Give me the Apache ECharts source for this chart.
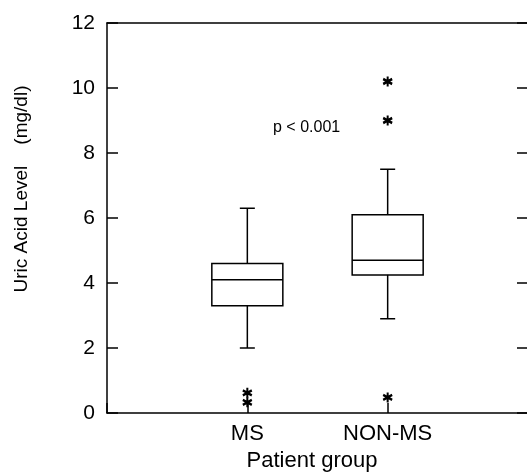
<!DOCTYPE html>
<html>
<head>
<meta charset="utf-8">
<script src="https://cdn.jsdelivr.net/npm/echarts@6/dist/echarts.min.js"></script>
<style>
html,body{margin:0;padding:0;background:#fff;}
#chart{width:527px;height:472px;}
</style>
</head>
<body>
<div id="chart"></div>
<script>
// ---- data ----
var categories = ['MS', 'NON-MS'];
var whiskerLow = [2.0, 2.9];
var quartile1 = [3.3, 4.25];
var medians = [4.1, 4.7];
var quartile3 = [4.6, 6.1];
var whiskerHigh = [6.3, 7.5];
// outliers: [category index (0-based), value]
var outlierGroup = [0, 0, 1, 1, 1];
var outlierValue = [0.62, 0.33, 0.48, 9.0, 10.2];
var yTicks = [0, 2, 4, 6, 8, 10, 12];
var annotation = 'p < 0.001';

var FONT = '"Liberation Sans", Arial, Helvetica, sans-serif';

var boxData = categories.map(function (c, i) {
  return [i + 1, whiskerLow[i], quartile1[i], medians[i], quartile3[i], whiskerHigh[i]];
});
var outlierData = outlierValue.map(function (v, i) {
  return [outlierGroup[i] + 1, v];
});

var STAR = 'path://M6,10L4,10L4,0L6,0Z' +
  'M0.02,3.63L1.02,1.37L9.98,6.37L8.98,8.63Z' +
  'M1.02,8.63L0.02,6.37L8.98,1.37L9.98,3.63Z';

var chart = echarts.init(document.getElementById('chart'), null, {renderer: 'canvas'});

var lineStyle = {stroke: '#000', lineWidth: 1.5};

var option = {
  backgroundColor: '#fff',
  animation: false,
  grid: {left: 107, top: 23, width: 421, height: 390, containLabel: false, outerBoundsMode: 'none'},
  xAxis: [{
    type: 'value',
    min: 0, max: 3, interval: 1,
    position: 'bottom',
    axisLine: {show: true, onZero: false, lineStyle: {color: '#000', width: 1.5}},
    axisTick: {show: true, inside: true, length: 10, lineStyle: {color: '#000', width: 1.5}},
    splitLine: {show: false},
    axisLabel: {
      show: true, margin: 10, fontSize: 22, color: '#000', fontFamily: FONT,
      formatter: function (v) { return categories[v - 1] || ''; }
    }
  }, {
    type: 'value',
    min: 0, max: 3, interval: 1,
    position: 'top',
    axisLine: {show: true, onZero: false, lineStyle: {color: '#000', width: 1.5}},
    axisTick: {show: false},
    splitLine: {show: false},
    axisLabel: {show: false}
  }],
  yAxis: [{
    type: 'value',
    min: 0, max: 12, interval: 2,
    position: 'left',
    axisLine: {show: true, onZero: false, lineStyle: {color: '#000', width: 1.5}},
    axisTick: {show: true, inside: true, length: 11, lineStyle: {color: '#000', width: 1.5}},
    splitLine: {show: false},
    axisLabel: {
      show: true, margin: 12, fontSize: 21, color: '#000', fontFamily: FONT,
      formatter: function (v) { return yTicks.indexOf(v) >= 0 ? String(v) : ''; }
    }
  }, {
    type: 'value',
    min: 0, max: 12, interval: 2,
    position: 'right',
    axisLine: {show: true, onZero: false, lineStyle: {color: '#000', width: 1.5}},
    axisTick: {show: true, inside: true, length: 11, lineStyle: {color: '#000', width: 1.5}},
    splitLine: {show: false},
    axisLabel: {show: false}
  }],
  series: [{
    type: 'custom',
    xAxisIndex: 0, yAxisIndex: 0,
    data: boxData,
    renderItem: function (params, api) {
      var x = api.value(0);
      var lo = api.coord([x, api.value(1)]);
      var q1 = api.coord([x, api.value(2)]);
      var md = api.coord([x, api.value(3)]);
      var q3 = api.coord([x, api.value(4)]);
      var hi = api.coord([x, api.value(5)]);
      var bw = api.size([0.506, 0])[0];
      var cw = api.size([0.107, 0])[0];
      var cx = lo[0];
      return {
        type: 'group',
        children: [
          {type: 'line', shape: {x1: cx, y1: q3[1], x2: cx, y2: hi[1]}, style: lineStyle},
          {type: 'line', shape: {x1: cx - cw / 2, y1: hi[1], x2: cx + cw / 2, y2: hi[1]}, style: lineStyle},
          {type: 'line', shape: {x1: cx, y1: q1[1], x2: cx, y2: lo[1]}, style: lineStyle},
          {type: 'line', shape: {x1: cx - cw / 2, y1: lo[1], x2: cx + cw / 2, y2: lo[1]}, style: lineStyle},
          {type: 'rect', shape: {x: cx - bw / 2, y: q3[1], width: bw, height: q1[1] - q3[1]},
            style: {fill: 'none', stroke: '#000', lineWidth: 1.5}},
          {type: 'line', shape: {x1: cx - bw / 2, y1: md[1], x2: cx + bw / 2, y2: md[1]}, style: lineStyle}
        ]
      };
    }
  }, {
    type: 'scatter',
    xAxisIndex: 0, yAxisIndex: 0,
    data: outlierData,
    symbol: STAR,
    symbolSize: 10,
    itemStyle: {color: '#000', opacity: 1}
  }],
  graphic: [{
    type: 'text',
    left: 273, top: 120,
    style: {text: annotation, fontSize: 16, fill: '#000', fontFamily: FONT}
  }, {
    type: 'text',
    x: 22, y: 189,
    rotation: Math.PI / 2,
    style: {text: 'Uric Acid Level    (mg/dl)', fontSize: 19, fill: '#000', fontFamily: FONT,
      align: 'center', verticalAlign: 'middle'}
  }, {
    type: 'text',
    x: 312, y: 461,
    style: {text: 'Patient group', fontSize: 22, fill: '#000', fontFamily: FONT,
      align: 'center', verticalAlign: 'middle'}
  }]
};
chart.setOption(option);
</script>
</body>
</html>
